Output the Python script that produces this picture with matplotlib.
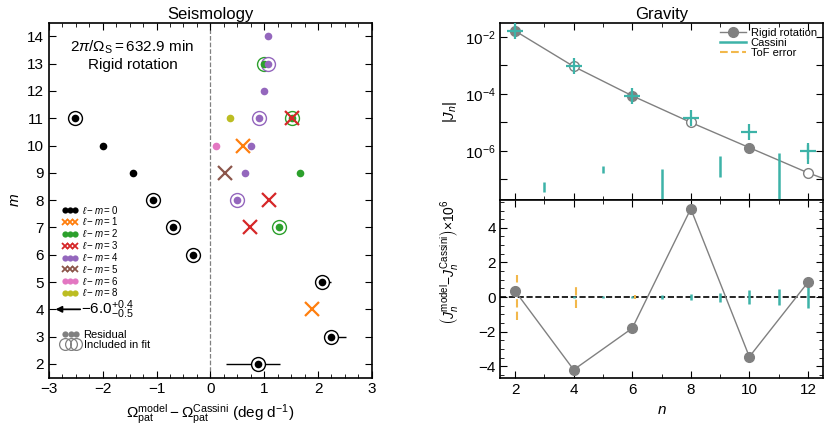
import matplotlib
matplotlib.use("Agg")
import matplotlib.pyplot as plt
import numpy as np
from matplotlib.lines import Line2D
from matplotlib.ticker import MultipleLocator

plt.rcParams['font.family'] = ['Liberation Sans', 'DejaVu Sans']
plt.rcParams['mathtext.fontset'] = 'custom'
plt.rcParams['mathtext.rm'] = 'Liberation Sans'
plt.rcParams['mathtext.it'] = 'Liberation Sans:italic'
plt.rcParams['mathtext.bf'] = 'Liberation Sans:bold'
plt.rcParams['font.size'] = 10

# ---- Seismology data: one group per l-m value ----
lm0_x = [-2.51, -1.99, -1.43, -1.07, -0.69, -0.32, 2.08, 2.25, 0.89]
lm0_m = [11, 10, 9, 8, 7, 6, 5, 3, 2]
lm0_elo = [0.09, 0, 0, 0.10, 0.10, 0.12, 0.09, 0.10, 0.60]
lm0_ehi = [0.09, 0, 0, 0.10, 0.10, 0.12, 0.17, 0.27, 0.40]
lm0_fit = [1, 0, 0, 1, 1, 1, 1, 1, 1]

lm1_x = [0.60, 1.88]
lm1_m = [10, 4]

lm2_x = [0.99, 1.51, 1.67, 1.27]
lm2_m = [13, 11, 9, 7]
lm2_err = [0.07, 0.08, 0, 0.13]
lm2_fit = [1, 1, 0, 1]

lm3_x = [1.52, 1.08, 0.74]
lm3_m = [11, 8, 7]

lm4_x = [1.07, 1.07, 0.99, 0.90, 0.75, 0.65, 0.50]
lm4_m = [14, 13, 12, 11, 10, 9, 8]
lm4_err = [0, 0.07, 0, 0.12, 0, 0, 0.13]
lm4_fit = [0, 1, 0, 1, 0, 0, 1]

lm5_x = [0.27]
lm5_m = [9]
lm6_x = [0.10]
lm6_m = [10]
lm8_x = [0.36]
lm8_m = [11]

# ---- Gravity data ----
n_even = [2, 4, 6, 8, 10, 12]
J_cassini = [1.63e-2, 9.35e-4, 8.63e-5, 1.46e-5, 4.7e-6, 1.0e-6]
J_cas_lo = [1.63e-2, 9.35e-4, 8.63e-5, 1.40e-5, 4.5e-6, 3.6e-7]
J_cas_hi = [1.63e-2, 9.35e-4, 8.63e-5, 1.52e-5, 4.9e-6, 1.6e-6]
n_model = [2, 4, 6, 8, 10, 12, 14]
J_model = [1.63e-2, 9.2e-4, 8.6e-5, 1.0e-5, 1.3e-6, 1.7e-7, 3.0e-8]
model_filled = [1, 0, 1, 0, 1, 0]
n_odd = [3, 5, 7, 9, 11]
J_odd_lo = [3.6e-8, 1.74e-7, 1e-8, 1.23e-7, 1e-8]
J_odd_hi = [8.1e-8, 2.9e-7, 2.3e-7, 6.5e-7, 8.1e-7]

resid = [0.35, -4.2, -1.8, 5.1, -3.45, 0.85]
n_all = [2, 3, 4, 5, 6, 7, 8, 9, 10, 11, 12]
cas_sigma = [0.02, 0.02, 0.05, 0.04, 0.06, 0.11, 0.17, 0.26, 0.40, 0.45, 0.65]
n_tof = [2, 4, 6]
tof_sigma = [1.3, 0.63, 0.1]

teal = '#3db3a8'
tof_col = '#f2b84b'
gray = '#808080'

fig = plt.figure(figsize=(8.3, 4.37), dpi=100)
ax = fig.add_axes([0.059, 0.136, 0.389, 0.812])
axt = fig.add_axes([0.603, 0.542, 0.388, 0.406])
axb = fig.add_axes([0.603, 0.134, 0.388, 0.408], sharex=axt)

# ---------- Seismology ----------
ax.axvline(0, color='gray', ls='--', lw=0.9, zorder=0)


def draw_group(xs, ms, color, marker, err_lo=None, err_hi=None, fit=None):
    xs = np.array(xs)
    ms = np.array(ms)
    if err_lo is not None:
        ax.errorbar(xs, ms, xerr=[err_lo, err_hi], fmt='none', ecolor=color,
                    elinewidth=1, capsize=0, zorder=2)
    if fit is not None:
        f = np.array(fit, dtype=bool)
        ax.plot(xs[f], ms[f], 'o', ms=10, mfc='white', mec=color, mew=1, zorder=3)
    if marker == 'x':
        ax.plot(xs, ms, 'x', ms=10, mew=1.6, color=color, zorder=5)
    else:
        ax.plot(xs, ms, 'o', ms=5.5, color=color, mec='none', zorder=4)


draw_group(lm0_x, lm0_m, 'black', 'o', lm0_elo, lm0_ehi, lm0_fit)
draw_group(lm1_x, lm1_m, '#ff7f0e', 'x')
draw_group(lm2_x, lm2_m, '#2ca02c', 'o', lm2_err, lm2_err, lm2_fit)
draw_group(lm3_x, lm3_m, '#d62728', 'x')
draw_group(lm4_x, lm4_m, '#9467bd', 'o', lm4_err, lm4_err, lm4_fit)
draw_group(lm5_x, lm5_m, '#8c564b', 'x')
draw_group(lm6_x, lm6_m, '#e377c2', 'o')
draw_group(lm8_x, lm8_m, '#bcbd22', 'o')

# off-scale l-m=0, m=4 point
ax.annotate('', xy=(-2.88, 4), xytext=(-2.42, 4),
            arrowprops=dict(arrowstyle='-|>', color='black', lw=1.3,
                            mutation_scale=9, shrinkA=0, shrinkB=0))
ax.text(-2.40, 4, r'$-6.0^{+0.4}_{-0.5}$', fontsize=11, va='center', ha='left')

ax.text(-1.45, 13.6, r'$2\pi/\Omega_{\rm S} = 632.9$ min', ha='center', va='center', fontsize=11)
ax.text(-1.45, 12.95, 'Rigid rotation', ha='center', va='center', fontsize=11)

lm_cols = ['black', '#ff7f0e', '#2ca02c', '#d62728', '#9467bd', '#8c564b', '#e377c2', '#bcbd22']
lm_marks = ['o', 'x', 'o', 'x', 'o', 'x', 'o', 'o']
lm_vals = ['0', '1', '2', '3', '4', '5', '6', '8']
handles = []
for c, mk, v in zip(lm_cols, lm_marks, lm_vals):
    if mk == 'x':
        h = Line2D([], [], ls='none', marker='x', ms=4.3, mew=1.3, color=c)
    else:
        h = Line2D([], [], ls='none', marker='o', ms=4.5, mec='none', color=c)
    handles.append(h)
labels = [r'$\ell - m = $' + v for v in lm_vals]
leg1 = ax.legend(handles, labels, loc='upper left', bbox_to_anchor=(0.04, 0.49),
                 numpoints=3, frameon=False, handlelength=1.7, handletextpad=0.35,
                 labelspacing=-0.02, fontsize=7, borderaxespad=0, borderpad=0)
ax.add_artist(leg1)

h_res = Line2D([], [], ls='none', marker='o', ms=4.5, mec='none', color=gray)
h_fit = Line2D([], [], ls='none', marker='o', ms=8.5, mfc='none', mec=gray, mew=0.9)
ax.legend([h_res, h_fit], ['Residual', 'Included in fit'], loc='upper left',
          bbox_to_anchor=(0.04, 0.135), numpoints=3, frameon=False, handlelength=1.6,
          handletextpad=0.35, labelspacing=0.0, fontsize=8, borderaxespad=0,
          borderpad=0)

ax.set_xlim(-3, 3)
ax.set_ylim(1.5, 14.5)
ax.set_yticks(range(2, 15))
ax.xaxis.set_minor_locator(MultipleLocator(0.25))
ax.tick_params(which='both', direction='in', top=True, right=True, labelsize=11)
ax.tick_params(which='major', length=5)
ax.tick_params(which='minor', length=3)
ax.set_ylabel(r'$m$', fontsize=11)
ax.set_xlabel(r'$\Omega_{\rm pat}^{\rm model} - \Omega_{\rm pat}^{\rm Cassini}$ (deg d$^{-1}$)',
              fontsize=11)
ax.set_title('Seismology', fontsize=12, pad=3)

# ---------- Gravity: |J_n| ----------
axt.plot(n_model, J_model, '-', color=gray, lw=1, zorder=2)
for n, j, f in zip(n_even, J_model, model_filled):
    axt.plot(n, j, 'o', ms=7, mfc=gray if f else 'white', mec=gray, mew=1, zorder=3)
J_cassini = np.array(J_cassini)
axt.errorbar(n_even, J_cassini,
             yerr=[J_cassini - np.array(J_cas_lo), np.array(J_cas_hi) - J_cassini],
             fmt='+', ms=11, mew=1.6, color=teal, elinewidth=1.6, capsize=0, zorder=4)
axt.vlines(n_odd, J_odd_lo, J_odd_hi, color=teal, lw=1.8, zorder=3)
axt.set_yscale('log')
axt.set_ylim(10 ** -7.73, 10 ** -1.5)
yt = [1e-7, 1e-6, 1e-5, 1e-4, 1e-3, 1e-2]
axt.set_yticks(yt)
axt.set_yticklabels(['', r'$10^{-6}$', '', r'$10^{-4}$', '', r'$10^{-2}$'])
axt.yaxis.set_minor_locator(plt.NullLocator())
axt.tick_params(which='both', direction='in', top=True, right=True, labelsize=11,
                labelbottom=False)
axt.tick_params(which='major', length=5)
axt.tick_params(which='minor', length=3)
axt.set_ylabel(r'$|J_n|$', fontsize=11)
axt.set_title('Gravity', fontsize=12, pad=3)

leg_h = [Line2D([], [], color=gray, lw=1, marker='o', ms=7),
         Line2D([], [], color=teal, lw=1.8),
         Line2D([], [], color=tof_col, lw=1.5, ls='--')]
axt.legend(leg_h, ['Rigid rotation', 'Cassini', 'ToF error'], loc='upper right',
           frameon=False, fontsize=8, handlelength=2.4, handletextpad=0.4,
           labelspacing=0.0, borderaxespad=0.3, borderpad=0.2)

# ---------- Gravity: residuals ----------
axb.axhline(0, color='black', ls='--', lw=1.2, zorder=1)
axb.vlines(n_all, -np.array(cas_sigma), cas_sigma, color=teal, lw=1.8, zorder=2)
axb.vlines(np.array(n_tof) + 0.08, -np.array(tof_sigma), tof_sigma, color=tof_col,
           lw=1.5, linestyles=(0, (4, 2)), zorder=2)
axb.plot(n_even, resid, 'o-', color=gray, lw=1, ms=7, zorder=3)
axb.set_xlim(1.5, 12.5)
axb.set_ylim(-4.7, 5.6)
axb.set_xticks(range(2, 13, 2))
axb.xaxis.set_minor_locator(MultipleLocator(1))
axb.set_yticks([-4, -2, 0, 2, 4])
axb.yaxis.set_minor_locator(MultipleLocator(0.5))
axb.tick_params(which='both', direction='in', top=True, right=True, labelsize=11)
axb.tick_params(which='major', length=5)
axb.tick_params(which='minor', length=3)
axt.xaxis.set_minor_locator(MultipleLocator(1))
axb.set_xlabel(r'$n$', fontsize=11)
axb.set_ylabel(r'$\left(J_n^{\rm model}{-}J_n^{\rm Cassini}\right){\times}10^6$', fontsize=10)
axb.yaxis.set_label_coords(-0.125, 0.65)

for a in (ax, axt, axb):
    for s in a.spines.values():
        s.set_linewidth(1.2)

fig.savefig('out.png', dpi=100)
